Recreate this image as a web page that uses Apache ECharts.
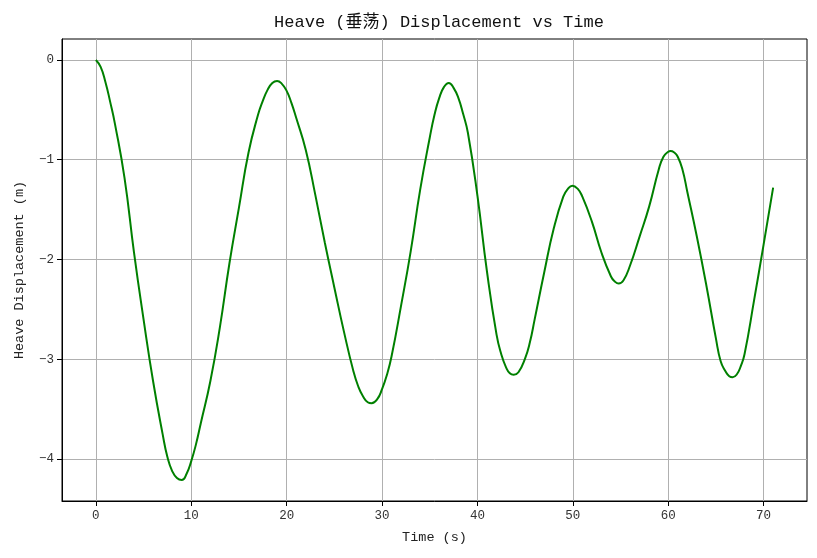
<!DOCTYPE html>
<html>
<head>
<meta charset="utf-8">
<script src="https://cdn.jsdelivr.net/npm/echarts@6/dist/echarts.min.js"></script>
<style>
    html, body { margin: 0; padding: 0; background: #fff; }
    #chart { width: 817px; height: 558px; }
</style>
</head>
<body>
<div id="chart"></div>
<script>
// heave displacement, denser around the turning points
var times = [
    0, 0.5, 1, 1.5, 2, 3, 4, 5, 6, 7, 7.5, 8, 8.5, 9, 9.5, 10, 10.5, 11,
    12, 13, 14, 15, 16, 17, 17.5, 18, 18.5, 19, 19.5, 20, 20.5, 21,
    22, 23, 24, 25, 26, 27, 27.5, 28, 28.5, 28.9, 29.5, 30, 30.5, 31,
    32, 33, 34, 35, 35.5, 36, 36.5, 37, 37.5, 38, 38.5, 39,
    40, 41, 42, 42.5, 43, 43.4, 43.8, 44.3, 45, 45.5, 46,
    47, 48, 49, 49.5, 49.95, 50.5, 51, 52, 53, 54, 54.4, 54.8, 55.3, 56,
    57, 58, 59, 59.5, 60, 60.24, 60.6, 61, 61.5, 62,
    63, 64, 65, 65.5, 66, 66.4, 66.75, 67.2, 67.6, 68, 69, 70, 71
];
var heave = [
    0, -0.07, -0.22, -0.42, -0.64, -1.18, -1.93, -2.6, -3.22, -3.75, -3.98, -4.12, -4.19, -4.21, -4.15, -4.02, -3.85, -3.64,
    -3.22, -2.68, -2.04, -1.48, -0.93, -0.55, -0.41, -0.3, -0.23, -0.21, -0.24, -0.31, -0.43, -0.58,
    -0.9, -1.35, -1.83, -2.28, -2.72, -3.12, -3.27, -3.37, -3.43, -3.44, -3.4, -3.3, -3.16, -2.97,
    -2.46, -1.92, -1.3, -0.78, -0.55, -0.38, -0.27, -0.23, -0.28, -0.38, -0.54, -0.73,
    -1.36, -2.12, -2.75, -2.95, -3.08, -3.14, -3.155, -3.13, -2.99, -2.83, -2.6,
    -2.13, -1.69, -1.37, -1.29, -1.26, -1.29, -1.37, -1.62, -1.93, -2.17, -2.22, -2.24, -2.21, -2.06,
    -1.77, -1.47, -1.1, -0.97, -0.92, -0.913, -0.925, -0.97, -1.1, -1.32,
    -1.77, -2.26, -2.79, -3.02, -3.12, -3.17, -3.18, -3.15, -3.07, -2.95, -2.41, -1.85, -1.28
];
var xTicks = [0, 10, 20, 30, 40, 50, 60, 70];
var yTicks = [-4, -3, -2, -1, 0];

var FONT = "'Liberation Mono', 'Noto Sans CJK SC', monospace";

var myChart = echarts.init(document.getElementById('chart'), null, {renderer: 'canvas'});

var seriesData = times.map(function (t, i) {
    return [t, heave[i]];
});

function fmtMinus(v) {
    return v < 0 ? '\u2212' + Math.abs(v) : String(v);
}

var option = {
    animation: false,
    backgroundColor: '#ffffff',
    title: {
        text: 'Heave (垂荡) Displacement vs Time',
        left: 434,
        top: 9,
        textAlign: 'center',
        textStyle: {
            fontFamily: FONT,
            fontSize: 17,
            fontWeight: 'normal',
            color: '#111'
        }
    },
    grid: {
        left: 62,
        right: 10,
        top: 39,
        bottom: 57,
        show: true,
        borderColor: '#000',
        borderWidth: 1,
        outerBoundsMode: 'none'
    },
    xAxis: {
        type: 'value',
        min: -3.55,
        max: 74.55,
        name: 'Time (s)',
        nameLocation: 'middle',
        nameGap: 30,
        nameTextStyle: {fontFamily: FONT, fontSize: 13.5, color: '#222'},
        axisLine: {show: true, onZero: false, lineStyle: {color: '#000', width: 1}},
        axisTick: {show: true, length: 5, customValues: xTicks, lineStyle: {color: '#000'}},
        axisLabel: {
            customValues: xTicks,
            fontFamily: FONT,
            fontSize: 12.5,
            color: '#333',
            margin: 8,
            formatter: fmtMinus
        },
        splitLine: {show: true, lineStyle: {color: '#b0b0b0', width: 1}}
    },
    yAxis: {
        type: 'value',
        min: -4.42,
        max: 0.21,
        name: 'Heave Displacement (m)',
        nameLocation: 'middle',
        nameGap: 36,
        nameTextStyle: {fontFamily: FONT, fontSize: 13.5, color: '#222'},
        axisLine: {show: true, onZero: false, lineStyle: {color: '#000', width: 1}},
        axisTick: {show: true, length: 5, customValues: yTicks, lineStyle: {color: '#000'}},
        axisLabel: {
            customValues: yTicks,
            fontFamily: FONT,
            fontSize: 12.5,
            color: '#333',
            margin: 8,
            formatter: fmtMinus
        },
        splitLine: {show: true, lineStyle: {color: '#b0b0b0', width: 1}}
    },
    series: [{
        name: 'Heave',
        type: 'line',
        data: seriesData,
        smooth: 0.5,
        showSymbol: false,
        lineStyle: {color: '#008000', width: 2},
        itemStyle: {color: '#008000'}
    }]
};
myChart.setOption(option);
</script>
</body>
</html>
